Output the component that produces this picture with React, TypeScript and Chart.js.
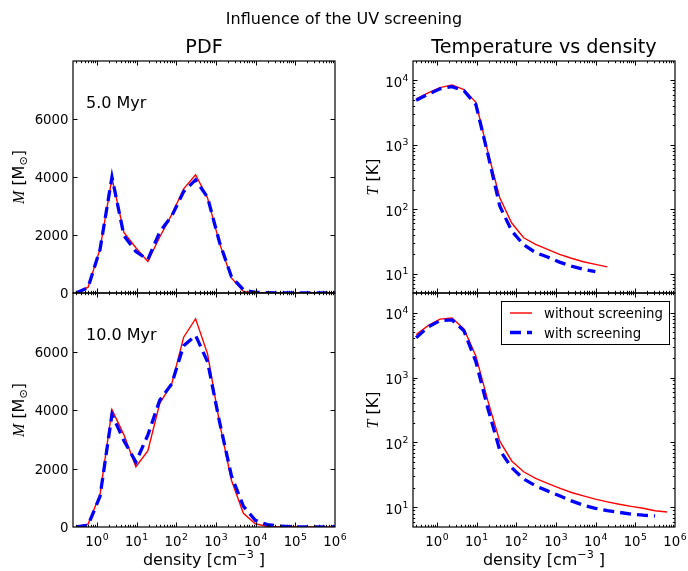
import React, { useEffect, useRef } from "react";
import { Chart, registerables } from "chart.js";

Chart.register(...registerables);

// Density bins [cm^-3]
const density = [
  0.3, 0.6, 1.2, 2.4, 4.8, 9.6, 19.2, 38.4, 76.8, 153.6, 307.2, 614.4, 1228.8,
  2457.6, 4915.2, 9830.4, 19660.8, 39321.6, 78643.2, 157286.4, 314572.8,
  629145.6, 1258291.2,
];

// Mass per density bin [Msun]
const pdf5Without = [0, 200, 1520, 3960, 2090, 1560, 1090, 1930, 2700, 3590, 4080, 3280, 1720, 520, 55, 5, 0, 0, 0, 0, 0, 0, 0];
const pdf5With = [0, 190, 1500, 4000, 1980, 1430, 1150, 2110, 2650, 3500, 3900, 3300, 1750, 560, 110, 20, 10, 5, 5, 5, 5, 5, 5];
const pdf10Without = [0, 100, 1110, 4010, 3150, 2060, 2600, 4230, 4890, 6490, 7120, 5920, 3570, 1600, 470, 110, 20, 0, 0, 0, 0, 0, 0];
const pdf10With = [0, 60, 1050, 3850, 2950, 2220, 3140, 4340, 4890, 6200, 6550, 5650, 3600, 1750, 710, 230, 80, 30, 10, 5, 5, 5, 5];

// Mean temperature per density bin [K]
const temp5Without = [5160, 6400, 7730, 8510, 7190, 4570, 780, 151, 61, 36, 28.5, 23.8, 19.9, 17.3, 15.3, 13.9, 12.7];
const temp5With = [4900, 6100, 7400, 8000, 6900, 4220, 720, 112, 46, 28, 21.2, 18.1, 15.1, 13.1, 11.7, 10.7];
const temp10Without = [4600, 6300, 7940, 8260, 5600, 2150, 440, 105, 52, 35.4, 28, 23.4, 19.9, 17, 15.1, 13.4, 12.2, 11.2, 10.4, 9.7, 8.9, 8.5];
const temp10With = [4100, 6000, 7500, 7700, 5250, 1750, 337, 76, 41, 27.4, 21.5, 18, 15.1, 12.6, 10.8, 9.7, 8.9, 8.4, 7.9, 7.6, 7.4];

// Axis ranges and tick marks
const densityRange = [0.25, 1e6];
const densityExponents = [0, 1, 2, 3, 4, 5, 6];
const massRange = [0, 8000];
const massTicks = [0, 2000, 4000, 6000];
const tempRange = [5, 2e4];
const tempExponents = [1, 2, 3, 4];

const seriesNames = ["without screening", "with screening"];
const snapshots = ["5.0 Myr", "10.0 Myr"];

const W = 688;
const H = 571;
const SANS = "'DejaVu Sans', 'Noto Sans', sans-serif";
const SERIF_IT = "italic 16px 'Liberation Serif', 'DejaVu Serif', serif";
const TICK_PX = 13.3;
const RED = "#ff0000";
const BLUE = "#0000ff";
const BLUE_DASH = [11, 6];

type Box = { left: number; top: number; right: number; bottom: number };
type Panel = {
  box: Box;
  kind: "pdf" | "temp";
  without: number[];
  withS: number[];
  xLabels: boolean;
  title?: string;
  note?: string;
  legend?: boolean;
  suptitle?: boolean;
};

const LEFT_COL = { left: 73, right: 335 };
const RIGHT_COL = { left: 413, right: 675 };
const TOP_ROW = { top: 61, bottom: 293 };
const BOTTOM_ROW = { top: 293, bottom: 527 };

const panels: Panel[] = [
  {
    box: { ...LEFT_COL, ...TOP_ROW },
    kind: "pdf",
    without: pdf5Without,
    withS: pdf5With,
    xLabels: false,
    title: "PDF",
    note: snapshots[0],
    suptitle: true,
  },
  {
    box: { ...RIGHT_COL, ...TOP_ROW },
    kind: "temp",
    without: temp5Without,
    withS: temp5With,
    xLabels: false,
    title: "Temperature vs density",
  },
  {
    box: { ...LEFT_COL, ...BOTTOM_ROW },
    kind: "pdf",
    without: pdf10Without,
    withS: pdf10With,
    xLabels: true,
    note: snapshots[1],
  },
  {
    box: { ...RIGHT_COL, ...BOTTOM_ROW },
    kind: "temp",
    without: temp10Without,
    withS: temp10With,
    xLabels: true,
    legend: true,
  },
];

function drawPower(
  ctx: CanvasRenderingContext2D,
  exp: string,
  x: number,
  baseline: number,
  align: "center" | "right"
) {
  const es = TICK_PX * 0.7;
  ctx.font = `${TICK_PX}px ${SANS}`;
  const wb = ctx.measureText("10").width;
  ctx.font = `${es}px ${SANS}`;
  const we = ctx.measureText(exp).width;
  const total = wb + we + 0.5;
  const left = align === "center" ? x - total / 2 : x - total;
  ctx.textAlign = "left";
  ctx.textBaseline = "alphabetic";
  ctx.font = `${TICK_PX}px ${SANS}`;
  ctx.fillText("10", left, baseline);
  ctx.font = `${es}px ${SANS}`;
  ctx.fillText(exp, left + wb + 0.5, baseline - TICK_PX * 0.45);
}

// Pieces of mixed-font text drawn one after the other on a shared baseline
type Piece = { text: string; font: string; dy?: number };

function drawPieces(ctx: CanvasRenderingContext2D, pieces: Piece[], cx: number, baseline: number) {
  let total = 0;
  const widths = pieces.map((p) => {
    ctx.font = p.font;
    const w = ctx.measureText(p.text).width;
    total += w;
    return w;
  });
  let x = cx - total / 2;
  ctx.textAlign = "left";
  ctx.textBaseline = "alphabetic";
  pieces.forEach((p, i) => {
    ctx.font = p.font;
    ctx.fillText(p.text, x, baseline + (p.dy || 0));
    x += widths[i];
  });
}

function decorPlugin(panel: Panel) {
  return {
    id: "frameAndText",
    afterDraw(chart: any) {
      const ctx: CanvasRenderingContext2D = chart.ctx;
      const { left, top, right, bottom } = chart.chartArea;
      const xs = chart.scales.x;
      const ys = chart.scales.y;
      ctx.save();
      ctx.fillStyle = "#000";
      ctx.strokeStyle = "#000";

      // ticks, pointing inwards on all four sides
      ctx.lineWidth = 1;
      const vTick = (px: number, len: number) => {
        ctx.beginPath();
        ctx.moveTo(px, bottom);
        ctx.lineTo(px, bottom - len);
        ctx.moveTo(px, top);
        ctx.lineTo(px, top + len);
        ctx.stroke();
      };
      const hTick = (py: number, len: number) => {
        ctx.beginPath();
        ctx.moveTo(left, py);
        ctx.lineTo(left + len, py);
        ctx.moveTo(right, py);
        ctx.lineTo(right - len, py);
        ctx.stroke();
      };
      for (let e = -1; e <= 6; e++) {
        for (let m = 1; m <= 9; m++) {
          const v = m * Math.pow(10, e);
          if (v <= densityRange[0] || v >= densityRange[1]) continue;
          vTick(Math.round(xs.getPixelForValue(v)) + 0.5, m === 1 ? 4.5 : 2.2);
        }
      }
      if (panel.kind === "pdf") {
        massTicks.forEach((t) => {
          if (t > massRange[0]) hTick(Math.round(ys.getPixelForValue(t)) + 0.5, 4.5);
        });
      } else {
        for (let e = 0; e <= 4; e++) {
          for (let m = 1; m <= 9; m++) {
            const v = m * Math.pow(10, e);
            if (v <= tempRange[0] || v >= tempRange[1]) continue;
            hTick(Math.round(ys.getPixelForValue(v)) + 0.5, m === 1 ? 4.5 : 2.2);
          }
        }
      }

      // frame
      ctx.lineWidth = 1.2;
      ctx.strokeRect(left, top, right - left, bottom - top);

      // y tick labels
      if (panel.kind === "pdf") {
        ctx.font = `${TICK_PX}px ${SANS}`;
        ctx.textAlign = "right";
        ctx.textBaseline = "alphabetic";
        massTicks.forEach((t) => {
          ctx.fillText(String(t), left - 4.5, ys.getPixelForValue(t) + 5);
        });
      } else {
        tempExponents.forEach((e) => {
          drawPower(ctx, String(e), left - 4.5, ys.getPixelForValue(Math.pow(10, e)) + 6.5, "right");
        });
      }

      // x tick labels and axis label
      const cx = (left + right) / 2;
      if (panel.xLabels) {
        densityExponents.forEach((e) => {
          drawPower(ctx, String(e), xs.getPixelForValue(Math.pow(10, e)), bottom + 19, "center");
        });
        drawPieces(
          ctx,
          [
            { text: "density [cm", font: `16px ${SANS}` },
            { text: "\u22123", font: `11.2px ${SANS}`, dy: -7 },
            { text: " ]", font: `16px ${SANS}` },
          ],
          cx,
          H - 6
        );
      }

      // y axis label, rotated
      const cy = (top + bottom) / 2;
      ctx.save();
      if (panel.kind === "pdf") {
        ctx.translate(24, cy);
        ctx.rotate(-Math.PI / 2);
        drawPieces(
          ctx,
          [
            { text: "M", font: SERIF_IT },
            { text: " [M", font: `16px ${SANS}` },
            { text: "\u2299", font: `11.2px ${SANS}`, dy: 3 },
            { text: "]", font: `16px ${SANS}` },
          ],
          0,
          0
        );
      } else {
        ctx.translate(378, cy);
        ctx.rotate(-Math.PI / 2);
        drawPieces(
          ctx,
          [
            { text: "T", font: SERIF_IT },
            { text: " [K]", font: `16px ${SANS}` },
          ],
          0,
          0
        );
      }
      ctx.restore();

      // titles
      ctx.textAlign = "center";
      ctx.textBaseline = "alphabetic";
      if (panel.title) {
        ctx.font = `19.2px ${SANS}`;
        ctx.fillText(panel.title, cx, top - 8);
      }
      if (panel.suptitle) {
        ctx.font = `16px ${SANS}`;
        ctx.fillText("Influence of the UV screening", W / 2, 24);
      }

      // snapshot time
      if (panel.note) {
        ctx.font = `16px ${SANS}`;
        ctx.textAlign = "left";
        ctx.fillText(panel.note, left + 13, top + 47);
      }

      // legend
      if (panel.legend) {
        const lx = 501.5;
        const ly = top + 8.5;
        const lw = 168;
        const lh = 43;
        ctx.fillStyle = "#fff";
        ctx.fillRect(lx, ly, lw, lh);
        ctx.lineWidth = 1;
        ctx.strokeStyle = "#000";
        ctx.strokeRect(lx, ly, lw, lh);
        const rows = [
          { color: RED, width: 1.4, dash: [] as number[], y: ly + 11.5 },
          { color: BLUE, width: 3.3, dash: BLUE_DASH, y: ly + 31 },
        ];
        rows.forEach((r, i) => {
          ctx.beginPath();
          ctx.setLineDash(r.dash);
          ctx.lineCap = "butt";
          ctx.strokeStyle = r.color;
          ctx.lineWidth = r.width;
          ctx.moveTo(510, r.y);
          ctx.lineTo(532, r.y);
          ctx.stroke();
          ctx.setLineDash([]);
          ctx.fillStyle = "#000";
          ctx.font = `${TICK_PX}px ${SANS}`;
          ctx.textAlign = "left";
          ctx.fillText(seriesNames[i], 544, r.y + 5);
        });
      }
      ctx.restore();
    },
  };
}

function PanelChart({ panel }: { panel: Panel }) {
  const ref = useRef<HTMLCanvasElement | null>(null);
  useEffect(() => {
    if (!ref.current) return;
    const pts = (vals: number[]) => vals.map((y, i) => ({ x: density[i], y }));
    const isPdf = panel.kind === "pdf";
    const chart = new Chart(ref.current, {
      type: "line",
      data: {
        datasets: [
          {
            label: seriesNames[1],
            data: pts(panel.withS),
            borderColor: BLUE,
            borderWidth: 3.3,
            borderDash: BLUE_DASH,
            borderCapStyle: "butt",
            pointRadius: 0,
            fill: false,
            tension: 0,
            order: 0,
          },
          {
            label: seriesNames[0],
            data: pts(panel.without),
            borderColor: RED,
            borderWidth: 1.4,
            pointRadius: 0,
            fill: false,
            tension: 0,
            order: 1,
          },
        ],
      },
      options: {
        animation: false,
        responsive: false,
        events: [],
        layout: {
          padding: {
            left: panel.box.left,
            top: panel.box.top,
            right: W - panel.box.right,
            bottom: H - panel.box.bottom,
          },
        },
        scales: {
          x: { type: "logarithmic", min: densityRange[0], max: densityRange[1], display: false },
          y: isPdf
            ? { type: "linear", min: massRange[0], max: massRange[1], display: false }
            : { type: "logarithmic", min: tempRange[0], max: tempRange[1], display: false },
        },
        plugins: {
          legend: { display: false },
          tooltip: { enabled: false },
          title: { display: false },
        },
      },
      plugins: [decorPlugin(panel)],
    } as any);
    return () => chart.destroy();
  }, [panel]);
  return (
    <canvas
      ref={ref}
      width={W}
      height={H}
      style={{ position: "absolute", left: 0, top: 0, width: W, height: H }}
    />
  );
}

export default function App() {
  return (
    <div style={{ position: "absolute", left: 0, top: 0, width: W, height: H, background: "#fff" }}>
      {panels.map((p, i) => (
        <PanelChart key={i} panel={p} />
      ))}
    </div>
  );
}
